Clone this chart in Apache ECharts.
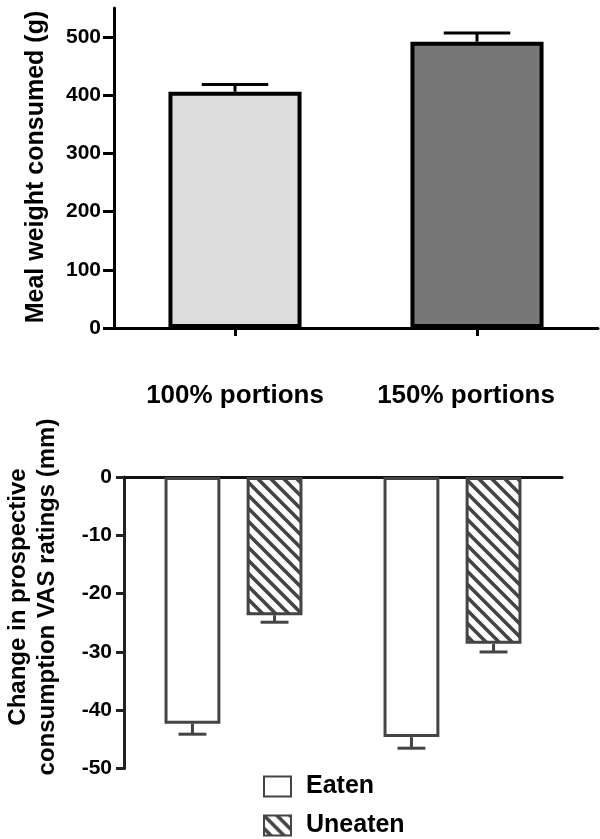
<!DOCTYPE html>
<html>
<head>
<meta charset="utf-8">
<script src="https://cdn.jsdelivr.net/npm/echarts@6/dist/echarts.min.js"></script>
<style>
html,body{margin:0;padding:0;background:#fff;}
#chart{width:600px;height:839px;}
</style>
</head>
<body>
<div id="chart"></div>
<script>
// ---- data ----
const categories = ['100% portions', '150% portions'];
const mealWeight = [406, 492];
const mealWeightSem = [12.5, 15];
const weightTicks = [0, 100, 200, 300, 400, 500];

const groups = ['100% portions', '150% portions'];
const eaten = [-42.3, -44.6];
const eatenSem = [1.8, 1.9];
const uneaten = [-23.7, -28.6];
const uneatenSem = [1.2, 1.4];
const vasTicks = [0, -10, -20, -30, -40, -50];

const topFills = ['#dcdcdc', '#777777'];
const FONT = 'Liberation Sans';

// hatch pattern "\\\"
function makeHatch() {
  const s = 13;
  const c = document.createElement('canvas');
  c.width = s; c.height = s;
  const ctx = c.getContext('2d');
  ctx.fillStyle = '#ffffff';
  ctx.fillRect(0, 0, s, s);
  ctx.strokeStyle = '#444444';
  ctx.lineWidth = 3.6;
  ctx.beginPath();
  ctx.moveTo(-2, -2); ctx.lineTo(s + 2, s + 2);
  ctx.moveTo(s - 3, -3); ctx.lineTo(s + 3, 3);
  ctx.moveTo(-3, s - 3); ctx.lineTo(3, s + 3);
  ctx.stroke();
  return c;
}
const hatch = { image: makeHatch(), repeat: 'repeat' };

const chart = echarts.init(document.getElementById('chart'), null, { renderer: 'canvas' });

const BAR_W = 0.255, BAR_GAP = 0.47;

const option = {
  animation: false,
  backgroundColor: '#ffffff',
  textStyle: { fontFamily: FONT },
  grid: [
    { left: 114, width: 484, top: 8, height: 320 },
    { left: 124, width: 438, top: 477, height: 291.6 }
  ],
  legend: {
    orient: 'vertical',
    left: 263,
    top: 774,
    padding: 0,
    height: 65,
    icon: 'rect',
    itemWidth: 27,
    itemHeight: 20,
    itemGap: 14,
    data: ['Eaten', 'Uneaten'],
    textStyle: { fontFamily: FONT, fontWeight: 'bold', fontSize: 25, color: '#000', padding: [0, 0, 0, 10] }
  },
  xAxis: [
    {
      type: 'category', gridIndex: 0,
      data: [{ value: categories[0] }, { value: categories[1], textStyle: { padding: [0, 22, 0, 0] } }],
      axisLine: { show: true, lineStyle: { color: '#000', width: 3 } },
      axisTick: { show: true, alignWithLabel: true, length: 8, lineStyle: { color: '#000', width: 3 } },
      axisLabel: { margin: 55, fontFamily: FONT, fontWeight: 'bold', fontSize: 26, color: '#000' }
    },
    {
      type: 'category', gridIndex: 1, position: 'top',
      data: groups,
      axisLine: { show: true, onZero: false, lineStyle: { color: '#111', width: 3 } },
      axisTick: { show: false },
      axisLabel: { show: false }
    }
  ],
  yAxis: [
    {
      type: 'value', gridIndex: 0, min: 0, max: 550, interval: 100,
      axisLine: { show: true, lineStyle: { color: '#000', width: 3 } },
      axisTick: { show: true, length: 11, customValues: weightTicks, lineStyle: { color: '#000', width: 3 } },
      axisLabel: { margin: 13, customValues: weightTicks, fontFamily: FONT, fontWeight: 'bold', fontSize: 21, color: '#000' },
      splitLine: { show: false }
    },
    {
      type: 'value', gridIndex: 1, min: -50, max: 0, interval: 10,
      axisLine: { show: true, lineStyle: { color: '#222', width: 3 } },
      axisTick: { show: true, length: 8, customValues: vasTicks, lineStyle: { color: '#222', width: 3 } },
      axisLabel: { margin: 12, customValues: vasTicks, fontFamily: FONT, fontWeight: 'bold', fontSize: 21, color: '#000' },
      splitLine: { show: false }
    }
  ],
  graphic: [
    {
      type: 'text', x: 36, y: 167, rotation: Math.PI / 2,
      style: { text: 'Meal weight consumed (g)', fontFamily: FONT, fontWeight: 'bold', fontSize: 25, fill: '#000', align: 'center', verticalAlign: 'middle' }
    },
    {
      type: 'text', x: 33, y: 597, rotation: Math.PI / 2,
      style: { text: 'Change in prospective\nconsumption VAS ratings (mm)', fontFamily: FONT, fontWeight: 'bold', fontSize: 24, lineHeight: 29, fill: '#000', align: 'center', verticalAlign: 'middle' }
    }
  ],
  series: [
    {
      type: 'bar', xAxisIndex: 0, yAxisIndex: 0, barWidth: '55%',
      data: mealWeight.map((v, i) => ({ value: v, itemStyle: { color: topFills[i] } })),
      itemStyle: { borderColor: '#000', borderWidth: 4 },
      z: 3
    },
    {
      type: 'custom', xAxisIndex: 0, yAxisIndex: 0,
      data: mealWeight.map((v, i) => [i, v, mealWeightSem[i]]),
      encode: { x: 0, y: 1 },
      z: 2,
      renderItem: function (params, api) {
        const bw = api.size([1, 0])[0];
        const half = bw * 0.55 / 4;
        const p0 = api.coord([api.value(0), api.value(1)]);
        const p1 = api.coord([api.value(0), api.value(1) + api.value(2)]);
        const st = { stroke: '#000', lineWidth: 3, fill: null };
        return {
          type: 'group', children: [
            { type: 'line', shape: { x1: p0[0], y1: p0[1], x2: p1[0], y2: p1[1] }, style: st },
            { type: 'line', shape: { x1: p1[0] - half, y1: p1[1], x2: p1[0] + half, y2: p1[1] }, style: st }
          ]
        };
      }
    },
    {
      type: 'bar', name: 'Eaten', xAxisIndex: 1, yAxisIndex: 1,
      barWidth: (BAR_W * 100) + '%', barGap: (BAR_GAP * 100) + '%',
      data: eaten,
      itemStyle: { color: '#ffffff', borderColor: '#444', borderWidth: 3 },
      z: 3
    },
    {
      type: 'bar', name: 'Uneaten', xAxisIndex: 1, yAxisIndex: 1,
      barWidth: (BAR_W * 100) + '%', barGap: (BAR_GAP * 100) + '%',
      data: uneaten,
      itemStyle: { color: hatch, borderColor: '#444', borderWidth: 3 },
      z: 3
    },
    {
      type: 'custom', xAxisIndex: 1, yAxisIndex: 1,
      data: eaten.map((v, i) => [i, v, eatenSem[i], 0]).concat(uneaten.map((v, i) => [i, v, uneatenSem[i], 1])),
      encode: { x: 0, y: 1 },
      z: 2,
      renderItem: function (params, api) {
        const bw = api.size([1, 0])[0];
        const w = bw * BAR_W;
        const gap = w * BAR_GAP;
        const total = 2 * w + gap;
        const s = api.value(3);
        const off = -total / 2 + w / 2 + s * (w + gap);
        const p0 = api.coord([api.value(0), api.value(1)]);
        const p1 = api.coord([api.value(0), api.value(1) - api.value(2)]);
        const x = p0[0] + off;
        const half = w / 4;
        const st = { stroke: '#444', lineWidth: 3, fill: null };
        return {
          type: 'group', children: [
            { type: 'line', shape: { x1: x, y1: p0[1], x2: x, y2: p1[1] }, style: st },
            { type: 'line', shape: { x1: x - half, y1: p1[1], x2: x + half, y2: p1[1] }, style: st }
          ]
        };
      }
    }
  ]
};
chart.setOption(option);
</script>
</body>
</html>
